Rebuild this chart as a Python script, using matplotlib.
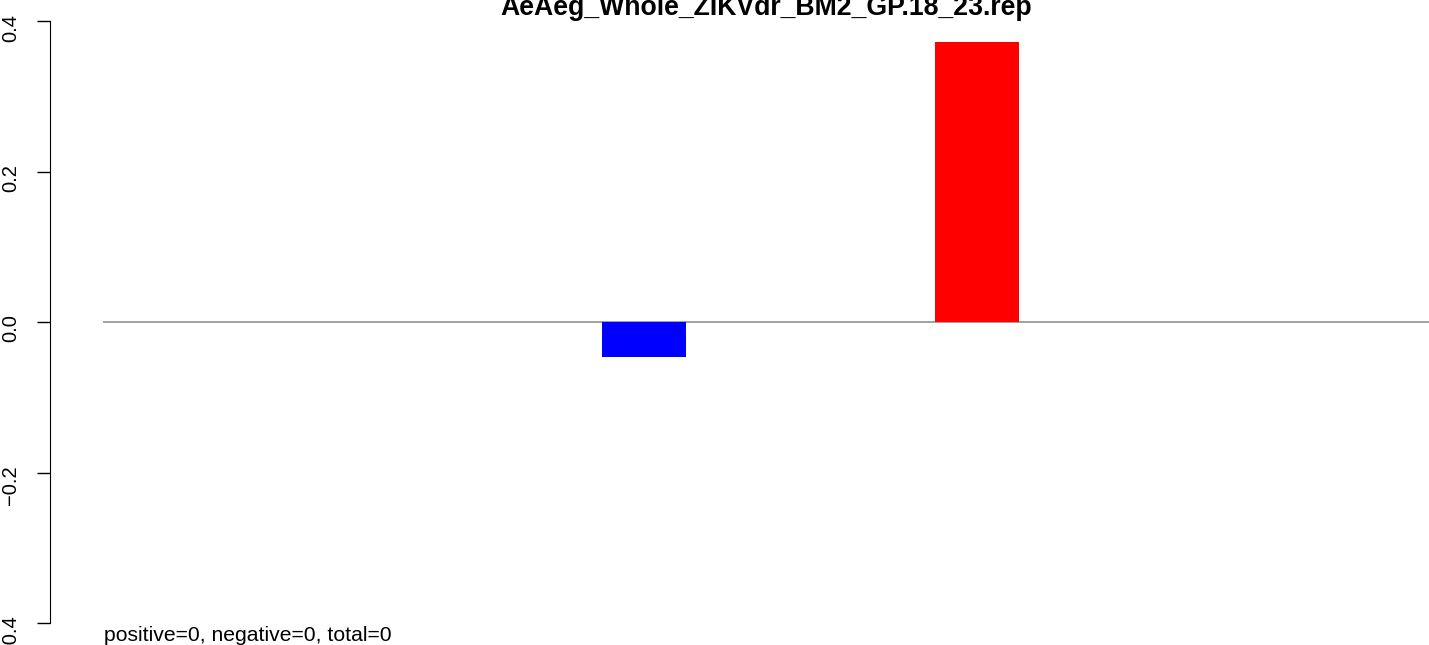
import matplotlib
matplotlib.use("Agg")
import matplotlib.pyplot as plt

plt.rcParams['font.family'] = ['Liberation Sans', 'DejaVu Sans']

# bar values (8 slots, most empty)
categories = ["b1", "b2", "b3", "b4", "b5", "b6", "b7", "b8"]
values = [0, 0, 0, -0.047, 0, 0.372, 0, 0]
colors = ["red" if v > 0 else "blue" for v in values]
yticks = [-0.4, -0.2, 0.0, 0.2, 0.4]
ylabels = ["\u22120.4", "\u22120.2", "0.0", "0.2", "0.4"]
title = "AeAeg_Whole_ZIKVdr_BM2_GP.18_23.rep"
note = "positive=0, negative=0, total=0"

W, H = 1429, 645
fig = plt.figure(figsize=(W / 100, H / 100), dpi=100)
ax = fig.add_axes([103 / W, (H - 623) / H, (W - 103) / W, (623 - 21) / H])

pos = [i + 0.25 for i in range(len(categories))]
ax.bar(pos, values, width=0.505, color=colors, zorder=3)
ax.axhline(0, color="#999999", lw=1.3, zorder=2)

ax.set_xlim(0, 1326 / 166.5)
ax.set_ylim(-0.4, 0.4)
ax.set_xticks([])
ax.set_yticks(yticks)
ax.set_yticklabels(ylabels)
ax.tick_params(axis="y", length=9.4, width=1, pad=12.2, labelsize=14.5, labelrotation=90)
for lab in ax.get_yticklabels():
    lab.set_rotation_mode("anchor")
    lab.set_ha("center")
    lab.set_va("baseline")

for s in ["top", "right", "bottom"]:
    ax.spines[s].set_visible(False)
ax.spines["left"].set_position(("outward", 38.2))
ax.spines["left"].set_bounds(-0.4, 0.4)

fig.text(766 / W, 1 - 15 / H, title, ha="center", va="baseline",
         fontsize=19.2, fontweight="bold")
fig.text(104 / W, (H - 641) / H, note, ha="left", va="baseline", fontsize=15.2)

fig.savefig("out.png", dpi=100)
